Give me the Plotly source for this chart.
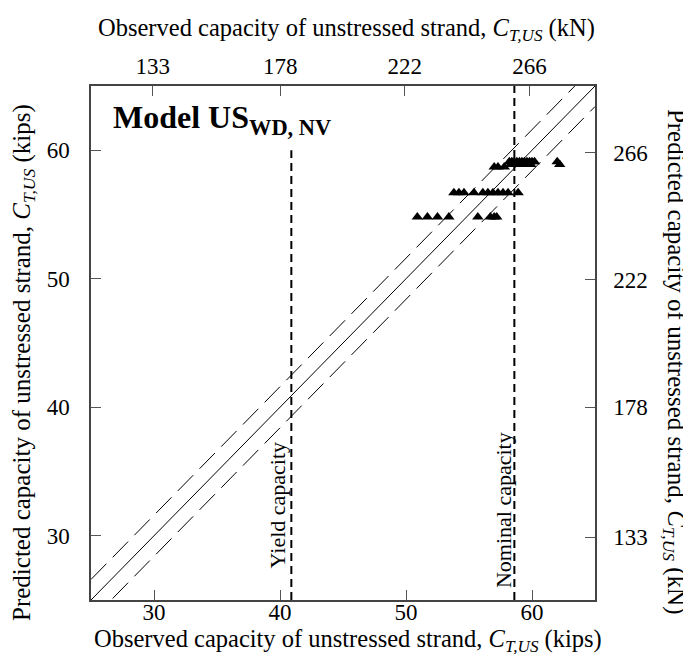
import plotly.graph_objects as go

# ---- data (kips) ----
obs_x = [50.9, 51.7, 52.5, 53.4, 55.7, 56.7, 57.0, 57.2,
         53.8, 54.2, 54.6, 55.4, 56.1, 56.5, 56.9, 57.3, 57.7, 58.1, 58.9,
         57.0, 57.3, 57.8,
         58.2, 58.4, 58.6, 58.8, 59.0, 59.2, 59.4, 59.6, 59.8, 60.0, 60.2,
         58.3, 58.7, 59.1, 59.5, 59.9,
         62.0, 62.2]
pred_y = [54.8, 54.8, 54.8, 54.8, 54.8, 54.8, 54.8, 54.8,
          56.7, 56.7, 56.7, 56.7, 56.7, 56.7, 56.7, 56.7, 56.7, 56.7, 56.7,
          58.7, 58.7, 58.7,
          59.1, 59.1, 59.1, 59.1, 59.1, 59.1, 59.1, 59.1, 59.1, 59.1, 59.1,
          58.9, 58.9, 58.9, 58.9, 58.9,
          59.1, 58.9]

axis_range = [25, 65]
kips_ticks = [30, 40, 50, 60]
kn_ticks = [133, 178, 222, 266]
KN_PER_KIP = 4.448
band = 1.6            # half-width of dashed band (kips)
yield_cap = 40.9
yield_top = 60.0
nominal_cap = 58.6

FONT = "Liberation Serif, Times New Roman, serif"
fig = go.Figure()

# 1:1 line and band
fig.add_trace(go.Scatter(x=axis_range, y=axis_range, mode="lines",
                         line=dict(color="black", width=1), showlegend=False))
fig.add_trace(go.Scatter(x=axis_range, y=[v + band for v in axis_range], mode="lines",
                         line=dict(color="black", width=1, dash="22px,9px"), showlegend=False))
fig.add_trace(go.Scatter(x=axis_range, y=[v - band for v in axis_range], mode="lines",
                         line=dict(color="black", width=1, dash="22px,9px"), showlegend=False))
# capacity lines
fig.add_trace(go.Scatter(x=[yield_cap, yield_cap], y=[axis_range[0], yield_top], mode="lines",
                         line=dict(color="black", width=2, dash="8px,5px"), showlegend=False))
fig.add_trace(go.Scatter(x=[nominal_cap, nominal_cap], y=axis_range, mode="lines",
                         line=dict(color="black", width=2, dash="8px,5px"), showlegend=False))
# data
fig.add_trace(go.Scatter(x=obs_x, y=pred_y, mode="markers",
                         marker=dict(symbol="triangle-up", size=10, color="black"),
                         showlegend=False))
# dummy trace for secondary axes
fig.add_trace(go.Scatter(x=[None], y=[None], xaxis="x2", yaxis="y2", showlegend=False))

axcommon = dict(range=axis_range, showgrid=False, zeroline=False, showline=True,
                linecolor="#444", linewidth=1.5, ticks="inside", ticklen=10,
                tickcolor="#555", tickwidth=1.2,
                tickfont=dict(family=FONT, size=23, color="black"))
fig.update_layout(
    width=683, height=655,
    margin=dict(l=83, r=96, t=78, b=63),
    paper_bgcolor="white", plot_bgcolor="white",
    font=dict(family=FONT, color="black"),
    xaxis=dict(**axcommon, tickvals=kips_ticks, ticklabelstandoff=-9),
    yaxis=dict(**axcommon, tickvals=kips_ticks, ticklabelstandoff=15),
    xaxis2=dict(**axcommon, overlaying="x", side="top",
                tickvals=[v / KN_PER_KIP for v in kn_ticks],
                ticktext=[str(v) for v in kn_ticks], ticklabelstandoff=1),
    yaxis2=dict(**axcommon, overlaying="y", side="right",
                tickvals=[v / KN_PER_KIP for v in kn_ticks],
                ticktext=[str(v) for v in kn_ticks], ticklabelstandoff=12),
)

C = "<i>C</i><sub><i>T,US</i></sub>"
tf = dict(family=FONT, size=24.5, color="black")
tv = dict(family=FONT, size=25, color="black")
fig.add_annotation(text="Observed capacity of unstressed strand, " + C + " (kips)",
                   xref="paper", yref="paper", x=0.51, y=-0.078, showarrow=False,
                   xanchor="center", yanchor="middle", font=tf)
fig.add_annotation(text="Observed capacity of unstressed strand, " + C + " (kN)",
                   xref="paper", yref="paper", x=0.506, y=1.109, showarrow=False,
                   xanchor="center", yanchor="middle", font=tf)
fig.add_annotation(text="Predicted capacity of unstressed strand, " + C + " (kips)",
                   xref="paper", yref="paper", x=-0.135, y=0.463, showarrow=False,
                   xanchor="center", yanchor="middle", textangle=-90, font=tv)
fig.add_annotation(text="Predicted capacity of unstressed strand, " + C + " (kN)",
                   xref="paper", yref="paper", x=1.159, y=0.463, showarrow=False,
                   xanchor="center", yanchor="middle", textangle=90, font=tv)
fig.add_annotation(text="<b>Model US<sub>WD, NV</sub></b>",
                   xref="paper", yref="paper", x=0.04, y=0.978, showarrow=False,
                   xanchor="left", yanchor="top", font=dict(family=FONT, size=32, color="black"))
fig.add_annotation(text="Yield capacity", x=39.8, y=32.4, showarrow=False,
                   textangle=-90, font=dict(family=FONT, size=22, color="black"))
fig.add_annotation(text="Nominal capacity", x=57.7, y=32.0, showarrow=False,
                   textangle=-90, font=dict(family=FONT, size=22, color="black"))

fig.write_html("out.html")
